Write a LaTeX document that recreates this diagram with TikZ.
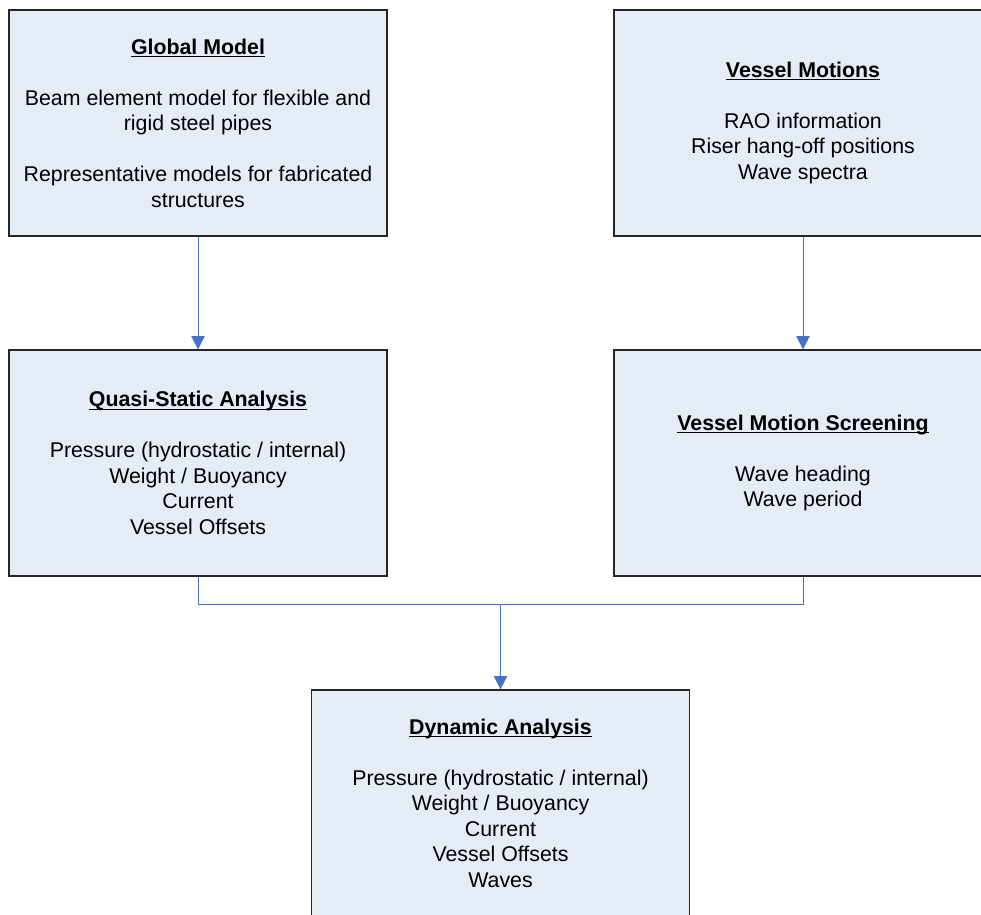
\documentclass[tikz,border=0pt]{standalone}
\usepackage{fontspec}
\setmainfont{Liberation Sans}
\usetikzlibrary{arrows.meta}

\definecolor{boxfill}{RGB}{230,236,246}
\definecolor{linkblue}{RGB}{68,114,196}
\newcommand{\heading}[1]{\underline{\smash{\textbf{#1}}}\vphantom{\textbf{#1}}}
\newcommand{\gapline}{\\[19.1pt]}

\tikzset{
  stage/.style={draw=black!85, line width=0.9pt, fill=boxfill, align=center,
    minimum width=378*0.75pt, minimum height=226*0.75pt, inner sep=0pt,
    font=\fontsize{16pt}{19.1pt}\selectfont},
  link/.style={draw=linkblue, line width=0.75pt},
  flow/.style={link, -{Triangle[width=10pt,length=10pt]}}
}

\begin{document}
\begin{tikzpicture}[x=0.75pt,y=0.75pt,yscale=-1,xscale=1]
    \clip (0,0) rectangle (981,914);
    \fill[white] (0,0) rectangle (981,914);

    %Shape: Rectangle [Global Model]
    \node[stage] (glob) at (198,123) {\heading{Global Model}\gapline
      Beam element model for flexible and\\ rigid steel pipes\gapline
      Representative models for fabricated\\ structures};
    %Shape: Rectangle [Vessel Motions]
    \node[stage] (vmot) at (803,123) {\heading{Vessel Motions}\gapline
      RAO information\\ Riser hang-off positions\\ Wave spectra};
    %Shape: Rectangle [Quasi-Static Analysis]
    \node[stage] (quasi) at (198,463) {\heading{Quasi-Static Analysis}\gapline
      Pressure (hydrostatic / internal)\\ Weight / Buoyancy\\ Current\\ Vessel Offsets};
    %Shape: Rectangle [Vessel Motion Screening]
    \node[stage] (screen) at (803,463) {\heading{Vessel Motion Screening}\gapline
      Wave heading\\ Wave period};
    %Shape: Rectangle [Dynamic Analysis]
    \node[stage] (dyn) at (500.5,803) {\heading{Dynamic Analysis}\gapline
      Pressure (hydrostatic / internal)\\ Weight / Buoyancy\\ Current\\ Vessel Offsets\\ Waves};

    %Connectors
    \draw[flow] (glob) -- (quasi);
    \draw[flow] (vmot) -- (screen);
    \draw[link] (quasi.south) -- ++(0,28) coordinate (join) -| (screen.south);
    \draw[flow] (join -| dyn.north) -- (dyn.north);

\end{tikzpicture}
\end{document}
